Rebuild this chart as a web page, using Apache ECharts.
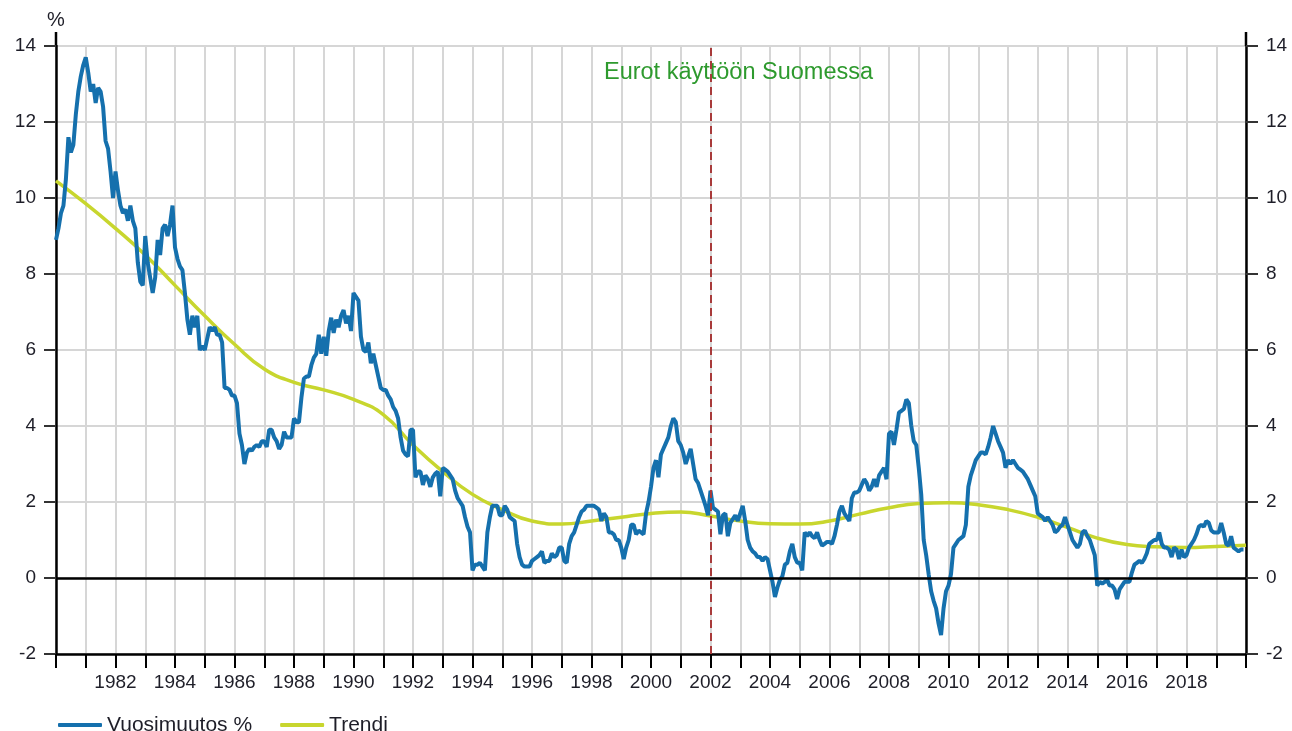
<!DOCTYPE html>
<html><head><meta charset="utf-8">
<script src="https://cdn.jsdelivr.net/npm/echarts@6/dist/echarts.min.js"></script>
<style>html,body{margin:0;padding:0;background:#fff}#c{width:1292px;height:731px}</style>
</head><body><div id="c"></div>
<script>
// Monthly year-on-year change (%), Jan 1980 .. Dec 2019
const startYear = 1980;
const v1980s = [
  8.9, 9.2, 9.6, 9.8, 10.5, 11.6, 11.2, 11.4, 12.2, 12.8, 13.2, 13.5,
  13.7, 13.3, 12.8, 13.0, 12.5, 12.9, 12.8, 12.4, 11.5, 11.3, 10.7, 10.0,
  10.7, 10.2, 9.8, 9.6, 9.7, 9.4, 9.8, 9.4, 9.2, 8.3, 7.8, 7.7,
  9.0, 8.3, 7.9, 7.5, 7.9, 8.9, 8.5, 9.2, 9.3, 9.0, 9.3, 9.8,
  8.7, 8.4, 8.2, 8.1, 7.5, 6.8, 6.4, 6.9, 6.6, 6.9, 6.0, 6.1,
  6.0, 6.3, 6.6, 6.5, 6.6, 6.4, 6.4, 6.2, 5.0, 5.0, 4.95, 4.8,
  4.8, 4.6, 3.8, 3.5, 3.0, 3.3, 3.4, 3.35, 3.45, 3.5, 3.45, 3.6,
  3.6, 3.45, 3.9, 3.9, 3.7, 3.6, 3.4, 3.5, 3.85, 3.7, 3.7, 3.7,
  4.2, 4.1, 4.1, 4.75, 5.25, 5.3, 5.3, 5.6, 5.8, 5.9, 6.4, 5.9,
  6.35, 5.85, 6.5, 6.85, 6.45, 6.8, 6.6, 6.9, 7.05, 6.7, 6.9, 6.5
];
const v1990s = [
  7.5, 7.4, 7.3, 6.35, 6.0, 5.95, 6.2, 5.65, 5.9, 5.6, 5.3, 5.0,
  4.95, 4.95, 4.8, 4.7, 4.5, 4.4, 4.2, 3.7, 3.35, 3.25, 3.2, 3.9,
  3.9, 2.65, 2.8, 2.8, 2.45, 2.7, 2.6, 2.4, 2.65, 2.75, 2.8, 2.15,
  2.9, 2.85, 2.8, 2.7, 2.6, 2.3, 2.1, 2.0, 1.9, 1.6, 1.35, 1.2,
  0.2, 0.35, 0.35, 0.4, 0.3, 0.2, 1.2, 1.6, 1.9, 1.9, 1.9, 1.65,
  1.65, 1.9, 1.8, 1.6, 1.55, 1.5, 0.9, 0.55, 0.35, 0.3, 0.3, 0.3,
  0.45, 0.5, 0.55, 0.6, 0.7, 0.4, 0.45, 0.45, 0.65, 0.55, 0.6, 0.8,
  0.8, 0.45, 0.4, 0.9, 1.1, 1.2, 1.4, 1.6, 1.75, 1.8, 1.9, 1.9,
  1.9, 1.9, 1.85, 1.8, 1.5, 1.7, 1.6, 1.2, 1.2, 1.15, 1.0, 1.0,
  0.8, 0.5, 0.8, 1.0, 1.4, 1.4, 1.15, 1.25, 1.2, 1.15, 1.7, 2.0
];
const v2000s = [
  2.4, 2.9, 3.1, 2.65, 3.25, 3.4, 3.55, 3.7, 4.0, 4.2, 4.1, 3.6,
  3.5, 3.3, 3.0, 3.2, 3.4, 3.0, 2.6, 2.5, 2.3, 2.1, 1.9, 1.65,
  2.3, 1.85, 1.8, 1.75, 1.15, 1.65, 1.7, 1.1, 1.45, 1.55, 1.65, 1.5,
  1.7, 1.9, 1.5, 1.0, 0.8, 0.7, 0.65, 0.55, 0.55, 0.45, 0.55, 0.5,
  0.2, -0.1, -0.5, -0.25, -0.05, 0.05, 0.35, 0.4, 0.7, 0.9, 0.55, 0.4,
  0.4, 0.2, 1.2, 1.1, 1.2, 1.1, 1.05, 1.2, 1.0, 0.85, 0.9, 0.95,
  0.95, 0.9, 1.1, 1.4, 1.75, 1.9, 1.7, 1.6, 1.5, 2.1, 2.25, 2.25,
  2.3, 2.45, 2.6, 2.5, 2.3, 2.4, 2.6, 2.4, 2.7, 2.8, 2.9, 2.6,
  3.8, 3.85, 3.5, 3.9, 4.35, 4.4, 4.45, 4.7, 4.6, 4.0, 3.6, 3.5,
  2.9, 2.2, 1.0, 0.6, 0.1, -0.35, -0.6, -0.8, -1.2, -1.5, -0.8, -0.35
];
const v2010s = [
  -0.2, 0.1, 0.8, 0.9, 1.0, 1.05, 1.1, 1.4, 2.4, 2.7, 2.9, 3.1,
  3.2, 3.3, 3.3, 3.25, 3.45, 3.7, 4.0, 3.8, 3.6, 3.45, 3.3, 2.9,
  3.1, 3.0, 3.1, 3.0, 2.9, 2.85, 2.8, 2.7, 2.6, 2.45, 2.3, 2.15,
  1.7, 1.65, 1.6, 1.5, 1.6, 1.5, 1.4, 1.2, 1.25, 1.35, 1.4, 1.6,
  1.4, 1.2, 1.0, 0.9, 0.8, 0.9, 1.2, 1.25, 1.1, 1.0, 0.8, 0.6,
  -0.2, -0.1, -0.15, -0.1, -0.05, -0.2, -0.2, -0.3, -0.55, -0.3, -0.2, -0.1,
  -0.1, -0.1, 0.15, 0.35, 0.4, 0.45, 0.4, 0.5, 0.65, 0.9, 0.95, 1.0,
  1.0, 1.2, 0.9, 0.8, 0.8, 0.75, 0.55, 0.8, 0.75, 0.5, 0.75, 0.55,
  0.6, 0.8, 0.9, 1.0, 1.15, 1.35, 1.4, 1.35, 1.5, 1.45, 1.25, 1.2,
  1.2, 1.2, 1.45, 1.2, 0.9, 0.85, 1.1, 0.8, 0.75, 0.7, 0.75, 0.75
];
// Trend (value at start of each year)
const trendYears = [1980,1981,1982,1983,1984,1985,1986,1987,1988,1989,1990,1991,1992,1993,1994,1995,1996,1997,1998,1999,2000,2001,2002,2003,2004,2005,2006,2007,2008,2009,2010,2011,2012,2013,2014,2015,2016,2017,2018,2019,2020];
const trendValues = [10.45,9.85,9.2,8.5,7.7,6.9,6.15,5.5,5.15,4.95,4.7,4.3,3.5,2.8,2.2,1.8,1.5,1.42,1.5,1.6,1.7,1.74,1.63,1.5,1.43,1.42,1.5,1.68,1.85,1.96,1.98,1.93,1.8,1.6,1.33,1.05,0.88,0.82,0.8,0.83,0.86];
const xLabelYears = [1982,1984,1986,1988,1990,1992,1994,1996,1998,2000,2002,2004,2006,2008,2010,2012,2014,2016,2018];
const euroYear = 2002;
const seriesNames = ['Vuosimuutos %', 'Trendi'];
const annotation = 'Eurot käyttöön Suomessa';

const monthly = v1980s.concat(v1990s, v2000s, v2010s);
const blueData = monthly.map((v, i) => [startYear + i / 12, v]);
const trendData = trendYears.map((y, i) => [y, trendValues[i]]);

const FONT = 'Liberation Sans, Arial, sans-serif';
const BLUE = '#1570ad', YELLOW = '#c8d62e', GRID = '#d6d6d6', TXT = '#1e1e28';

const chart = echarts.init(document.getElementById('c'), null, {renderer: 'canvas'});
const yCommon = {
  type: 'value', min: -2, max: 14, interval: 2,
  axisLine: {show: true, lineStyle: {color: '#000', width: 2.5}},
  axisTick: {show: true, length: 12, lineStyle: {color: '#333', width: 2}},
  axisLabel: {fontSize: 19, color: TXT, fontFamily: FONT, margin: 20}
};
chart.setOption({
  animation: false,
  grid: {left: 56, right: 46, top: 46, bottom: 77},
  legend: {
    data: seriesNames, left: 53, top: 709.5, icon: 'roundRect',
    itemWidth: 44, itemHeight: 4, itemGap: 28,
    textStyle: {fontSize: 21, color: TXT, fontFamily: FONT, padding: [8, 0, 0, 0]}
  },
  xAxis: {
    type: 'value', min: 1980, max: 2020, interval: 1,
    axisLine: {onZero: false, lineStyle: {color: '#000', width: 2.5}},
    axisTick: {length: 14, lineStyle: {color: '#000', width: 2}},
    axisLabel: {
      fontSize: 19, color: TXT, fontFamily: FONT, margin: 19,
      formatter: v => xLabelYears.includes(v) ? String(v) : ''
    },
    splitLine: {show: true, lineStyle: {color: GRID, width: 2}}
  },
  yAxis: [
    Object.assign({}, yCommon, {
      position: 'left', name: '%', nameLocation: 'end', nameGap: 16,
      nameTextStyle: {fontSize: 20, color: TXT, fontFamily: FONT},
      splitLine: {show: true, lineStyle: {color: GRID, width: 2}}
    }),
    Object.assign({}, yCommon, {position: 'right', splitLine: {show: false}})
  ],
  series: [
    {
      name: seriesNames[1], type: 'line', data: trendData, smooth: 0.5,
      showSymbol: false, z: 2, color: YELLOW,
      lineStyle: {color: YELLOW, width: 3.5},
      markLine: {
        silent: true, symbol: 'none', animation: false,
        data: [
          {yAxis: 0, lineStyle: {color: '#000', type: 'solid', width: 2.5}, label: {show: false}},
          {xAxis: euroYear, lineStyle: {color: '#a83a3a', type: [8, 5], width: 2}, label: {show: false}}
        ]
      }
    },
    {
      name: seriesNames[0], type: 'line', data: blueData,
      showSymbol: false, z: 3, color: BLUE,
      lineStyle: {color: BLUE, width: 4}
    }
  ]
});
const pL = chart.convertToPixel({xAxisIndex: 0, yAxisIndex: 0}, [1980, 14]);
const pR = chart.convertToPixel({xAxisIndex: 0, yAxisIndex: 0}, [2020, 14]);
const pT = chart.convertToPixel({xAxisIndex: 0, yAxisIndex: 0}, [euroYear, 13.3]);
chart.setOption({
  graphic: [
    {type: 'line', shape: {x1: pL[0], y1: pL[1] - 14, x2: pL[0], y2: pL[1]}, style: {stroke: '#000', lineWidth: 2.5}},
    {type: 'line', shape: {x1: pR[0], y1: pR[1] - 14, x2: pR[0], y2: pR[1]}, style: {stroke: '#000', lineWidth: 2.5}},
    {type: 'text', x: pT[0] + 28, y: pT[1], style: {text: annotation, fill: '#2e9a2e', font: '23.5px ' + FONT, textAlign: 'center', textVerticalAlign: 'middle'}}
  ]
});
</script>
</body></html>
